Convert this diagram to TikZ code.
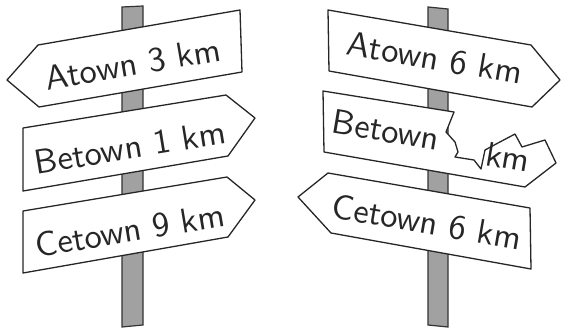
\documentclass[tikz,border=0pt]{standalone}
\tikzset{
  post/.style={draw=black!80, fill=black!37, line width=1.2pt},
  sign/.style={draw=black!85, fill=white, line width=1.3pt, line join=round},
  signtext/.style={font=\sffamily, scale=3.45, text=black!85, inner sep=0pt}
}
\begin{document}
\begin{tikzpicture}[x=1pt,y=-1pt]
\useasboundingbox (0,0) rectangle (562,329);
% posts
\draw[post] (122,7) -- (143,6) -- (143,325) -- (122,327) -- cycle;
\draw[post] (428,7) -- (448,9) -- (448,327) -- (428,325) -- cycle;
% left signs
\draw[sign] (7,80) -- (38,45) -- (240,10) -- (242,72) -- (39,107) -- cycle;
\node[signtext, rotate=9.8] (la) at (133,64) {Atown 3 km};
\draw[sign] (23,128) -- (226,95) -- (255,118) -- (228,156) -- (23,191) -- cycle;
\node[signtext, rotate=9.3] (lb) at (130,147) {Betown 1 km};
\draw[sign] (23,211) -- (227,177) -- (255,200) -- (228,237) -- (23,273) -- cycle;
\node[signtext, rotate=9.5] (lc) at (130,230) {Cetown 9 km};
% right signs
\draw[sign] (328,10) -- (531,45) -- (560,80) -- (532,107) -- (329,71) -- cycle;
\node[signtext, rotate=-9.8] (ra) at (435,58) {Atown 6 km};
\draw[sign] (323,91) -- (454,112) -- (446,132) -- (455,142) -- (458,152) -- (455,157)
  -- (474,160) -- (481,169) -- (485,150) -- (498,143) -- (515,134) -- (522,147)
  -- (545,140) -- (556,163) -- (525,187) -- (324,152) -- cycle;
\node[signtext, rotate=-9.6] (rb) at (386,130) {Betown};
\node[signtext, rotate=-9.6] (rk) at (508,157) {km};
\draw[sign] (298,197) -- (328,173) -- (530,208) -- (531,269) -- (331,233) -- cycle;
\node[signtext, rotate=-9.8] (rc) at (427,222) {Cetown 6 km};
\end{tikzpicture}
\end{document}
